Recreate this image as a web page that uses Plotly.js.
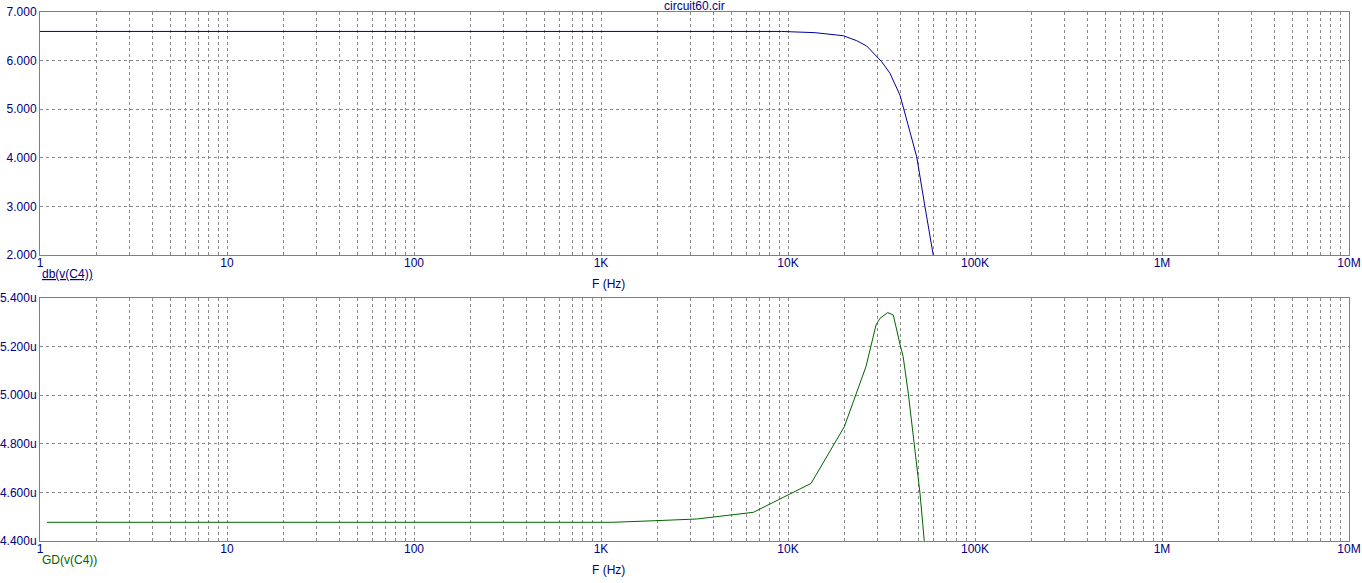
<!DOCTYPE html>
<html>
<head>
<meta charset="utf-8">
<script src="https://cdn.plot.ly/plotly-3.0.1.min.js"></script>
<style>html,body{margin:0;padding:0;background:#fff;}#chart{width:1362px;height:583px;}</style>
</head>
<body>
<div id="chart"></div>
<script>
// Top trace: db(v(C4))
const dbFreq = [1, 100, 1000, 9250, 13930, 19770, 23300, 26360, 31700, 35100, 39700, 43100, 48800, 54000, 59800];
const dbVals = [6.6, 6.6, 6.6, 6.6, 6.575, 6.512, 6.41, 6.30, 5.977, 5.739, 5.29, 4.778, 4.02, 2.994, 2.0];

// Bottom trace: GD(v(C4)) in microseconds
const gdFreq = [1.09, 100, 1155, 1945, 3250, 6530, 13280, 20000, 26100, 29570, 31030, 34120, 36560, 39700, 41300, 43970, 46750, 50800, 53550];
const gdVals = [4.477, 4.477, 4.477, 4.4835, 4.4905, 4.518, 4.637, 4.87, 5.117, 5.289, 5.316, 5.34, 5.33, 5.21, 5.158, 5.008, 4.843, 4.596, 4.4];

const decadeLabels = ['1', '10', '100', '1K', '10K', '100K', '1M', '10M'];
const topTickVals = [2, 3, 4, 5, 6, 7];
const topTickText = ['2.000', '3.000', '4.000', '5.000', '6.000', '7.000'];
const botTickVals = [4.4, 4.6, 4.8, 5.0, 5.2, 5.4];
const botTickText = ['4.400u', '4.600u', '4.800u', '5.000u', '5.200u', '5.400u'];

const xTickVals = [], xTickText = [];
decadeLabels.forEach((lab, k) => {
  const base = Math.pow(10, k);
  xTickVals.push(base); xTickText.push(lab);
  if (k < decadeLabels.length - 1) {
    for (let m = 2; m <= 9; m++) { xTickVals.push(m * base); xTickText.push(''); }
  }
});

const navy = '#000080';
const gridCol = '#8a8a8a';
const font = {family: 'Liberation Sans, Arial, sans-serif', size: 12, color: navy};

const xCommon = {
  type: 'log', range: [0, 7], tickmode: 'array', tickvals: xTickVals, ticktext: xTickText,
  showgrid: true, gridcolor: gridCol, griddash: '3px,3px', gridwidth: 1,
  showline: true, linecolor: '#808080', linewidth: 1, mirror: true,
  ticks: '', zeroline: false, tickfont: font, fixedrange: true, ticklabelstandoff: -3
};
const yCommon = {
  tickmode: 'array', showgrid: true, gridcolor: gridCol, griddash: '3px,3px', gridwidth: 1,
  showline: true, linecolor: '#808080', linewidth: 1, mirror: true,
  ticks: '', zeroline: false, tickfont: font, fixedrange: true
};

const data = [
  {x: dbFreq, y: dbVals, xaxis: 'x', yaxis: 'y', mode: 'lines', line: {color: '#0000a0', width: 1}, hoverinfo: 'skip'},
  {x: gdFreq, y: gdVals, xaxis: 'x2', yaxis: 'y2', mode: 'lines', line: {color: '#006400', width: 1}, hoverinfo: 'skip'}
];

const layout = {
  width: 1362, height: 583,
  margin: {l: 40, r: 13, t: 12, b: 42},
  paper_bgcolor: '#fff', plot_bgcolor: '#fff',
  showlegend: false,
  xaxis: Object.assign({}, xCommon, {anchor: 'y', domain: [0, 1]}),
  yaxis: Object.assign({}, yCommon, {anchor: 'x', domain: [0.5406, 1], range: [2, 7], tickvals: topTickVals, ticktext: topTickText}),
  xaxis2: Object.assign({}, xCommon, {anchor: 'y2', domain: [0, 1]}),
  yaxis2: Object.assign({}, yCommon, {anchor: 'x2', domain: [0, 0.4594], range: [4.4, 5.4], tickvals: botTickVals, ticktext: botTickText}),
  annotations: [
    {text: 'circuit60.cir', xref: 'paper', yref: 'paper', x: 0.5, y: 1, yshift: 6, xanchor: 'center', yanchor: 'middle', showarrow: false, font: font},
    {text: 'F (Hz)', xref: 'paper', yref: 'paper', x: 0.434, y: 0.5406, yshift: -29, xanchor: 'center', yanchor: 'middle', showarrow: false, font: font},
    {text: 'F (Hz)', xref: 'paper', yref: 'paper', x: 0.434, y: 0, yshift: -29, xanchor: 'center', yanchor: 'middle', showarrow: false, font: font},
    {text: '<span style="text-decoration:underline">db(v(C4))</span>', xref: 'paper', yref: 'paper', x: 0, y: 0.5406, yshift: -19, xanchor: 'left', yanchor: 'middle', showarrow: false, font: font},
    {text: 'GD(v(C4))', xref: 'paper', yref: 'paper', x: 0, y: 0, yshift: -19, xanchor: 'left', yanchor: 'middle', showarrow: false, font: Object.assign({}, font, {color: '#006400'})}
  ]
};

Plotly.newPlot('chart', data, layout, {displayModeBar: false, staticPlot: true});
</script>
</body>
</html>
